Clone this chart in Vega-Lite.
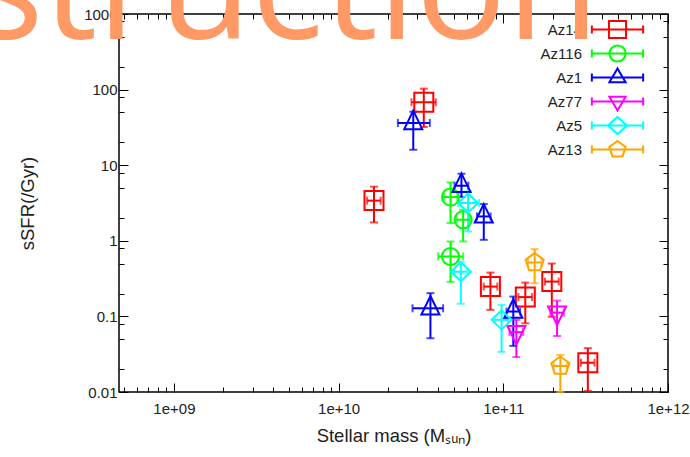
{
  "$schema": "https://vega.github.io/schema/vega-lite/v6.json",
  "autosize": {"type": "none"},
  "width": 549,
  "height": 378,
  "padding": {"left": 119, "top": 14, "right": 22, "bottom": 65},
  "background": "white",
  "config": {
    "view": {"stroke": "black", "strokeWidth": 1.5},
    "axis": {"grid": false, "domain": false, "labelFont": "Liberation Sans", "labelFontSize": 15, "labelColor": "#222222", "titleFont": "Liberation Sans", "titleFontSize": 18.5, "titleFontWeight": "normal", "titleColor": "#222222", "tickColor": "black", "tickWidth": 1, "labelFlush": false, "labelOverlap": false},
    "point": {"filled": false, "strokeWidth": 2, "size": 361, "opacity": 1}
  },
  "datasets": {
    "pts": [
      {"s": "Az14", "x": 3.29e10, "xlo": 2.77e10, "xhi": 3.89e10, "y": 68, "ylo": 32, "yhi": 103},
      {"s": "Az14", "x": 1.64e10, "xlo": 1.49e10, "xhi": 1.8e10, "y": 3.4, "ylo": 1.75, "yhi": 5.2},
      {"s": "Az14", "x": 8.35e10, "xlo": 7.6e10, "xhi": 9.2e10, "y": 0.248, "ylo": 0.122, "yhi": 0.38},
      {"s": "Az14", "x": 1.36e11, "xlo": 1.235e11, "xhi": 1.495e11, "y": 0.18, "ylo": 0.081, "yhi": 0.28},
      {"s": "Az14", "x": 1.97e11, "xlo": 1.79e11, "xhi": 2.17e11, "y": 0.289, "ylo": 0.099, "yhi": 0.5},
      {"s": "Az14", "x": 3.26e11, "xlo": 2.96e11, "xhi": 3.58e11, "y": 0.0244, "ylo": 0.0103, "yhi": 0.038},
      {"s": "Az116", "x": 4.78e10, "xlo": 4.35e10, "xhi": 5.26e10, "y": 3.79, "ylo": 1.72, "yhi": 5.92},
      {"s": "Az116", "x": 5.7e10, "xlo": 5.18e10, "xhi": 6.27e10, "y": 1.9, "ylo": 0.98, "yhi": 2.57},
      {"s": "Az116", "x": 4.78e10, "xlo": 4.02e10, "xhi": 5.7e10, "y": 0.62, "ylo": 0.286, "yhi": 0.98},
      {"s": "Az1", "x": 2.84e10, "xlo": 2.29e10, "xhi": 3.58e10, "y": 36.2, "ylo": 16, "yhi": 51},
      {"s": "Az1", "x": 5.57e10, "xlo": 5.06e10, "xhi": 6.13e10, "y": 5.35, "ylo": 3.8, "yhi": 7.7},
      {"s": "Az1", "x": 7.61e10, "xlo": 6.92e10, "xhi": 8.37e10, "y": 2.1, "ylo": 1.03, "yhi": 3.06},
      {"s": "Az1", "x": 3.61e10, "xlo": 2.81e10, "xhi": 4.31e10, "y": 0.128, "ylo": 0.0514, "yhi": 0.203},
      {"s": "Az1", "x": 1.15e11, "xlo": 1.045e11, "xhi": 1.265e11, "y": 0.116, "ylo": 0.0407, "yhi": 0.183},
      {"s": "Az77", "x": 1.2e11, "xlo": 1.09e11, "xhi": 1.32e11, "y": 0.062, "ylo": 0.029, "yhi": 0.09},
      {"s": "Az77", "x": 2.12e11, "xlo": 1.93e11, "xhi": 2.33e11, "y": 0.112, "ylo": 0.055, "yhi": 0.162},
      {"s": "Az5", "x": 6.11e10, "xlo": 5.32e10, "xhi": 7.13e10, "y": 3.16, "ylo": 1.33, "yhi": 4.5},
      {"s": "Az5", "x": 5.52e10, "xlo": 5.02e10, "xhi": 6.07e10, "y": 0.39, "ylo": 0.147, "yhi": 0.527},
      {"s": "Az5", "x": 9.76e10, "xlo": 8.87e10, "xhi": 1.074e11, "y": 0.09, "ylo": 0.034, "yhi": 0.142},
      {"s": "Az13", "x": 1.55e11, "xlo": 1.41e11, "xhi": 1.705e11, "y": 0.516, "ylo": 0.275, "yhi": 0.776},
      {"s": "Az13", "x": 2.22e11, "xlo": 2.02e11, "xhi": 2.44e11, "y": 0.0221, "ylo": 0.01, "yhi": 0.031}
    ]
  },
  "data": {"name": "pts"},
  "layer": [
    {
      "mark": {"type": "rule", "strokeWidth": 2},
      "encoding": {
        "x": {"field": "x", "type": "quantitative", "scale": {"type": "log", "domain": [4.64e8, 1e12], "nice": false},
              "axis": {"orient": "bottom", "values": [5e8, 6e8, 7e8, 8e8, 9e8, 2e9, 3e9, 4e9, 5e9, 6e9, 7e9, 8e9, 9e9, 2e10, 3e10, 4e10, 5e10, 6e10, 7e10, 8e10, 9e10, 2e11, 3e11, 4e11, 5e11, 6e11, 7e11, 8e11, 9e11], "labels": false, "tickSize": -5, "title": null}},
        "y": {"field": "ylo", "type": "quantitative", "scale": {"type": "log", "domain": [0.01, 1000], "nice": false},
              "axis": {"orient": "left", "values": [0.02, 0.05, 0.08, 0.2, 0.5, 0.8, 2, 5, 8, 20, 50, 80, 200, 500, 800], "labels": false, "tickSize": -5, "title": null}},
        "y2": {"field": "yhi"},
        "stroke": {"field": "s", "type": "nominal", "scale": {"domain": ["Az14", "Az116", "Az1", "Az77", "Az5", "Az13"], "range": ["#ff0000", "#00ff00", "#0000ff", "#ff00ff", "#00ffff", "#ffa500"]}, "legend": null}
      }
    },
    {
      "mark": {"type": "rule", "strokeWidth": 2},
      "encoding": {
        "x": {"field": "xlo", "type": "quantitative", "scale": {"type": "log", "domain": [4.64e8, 1e12], "nice": false},
              "axis": {"orient": "top", "values": [5e8, 6e8, 7e8, 8e8, 9e8, 2e9, 3e9, 4e9, 5e9, 6e9, 7e9, 8e9, 9e9, 2e10, 3e10, 4e10, 5e10, 6e10, 7e10, 8e10, 9e10, 2e11, 3e11, 4e11, 5e11, 6e11, 7e11, 8e11, 9e11], "labels": false, "tickSize": -5, "title": null}},
        "x2": {"field": "xhi"},
        "y": {"field": "y", "type": "quantitative", "scale": {"type": "log", "domain": [0.01, 1000], "nice": false},
              "axis": {"orient": "right", "values": [0.02, 0.05, 0.08, 0.2, 0.5, 0.8, 2, 5, 8, 20, 50, 80, 200, 500, 800], "labels": false, "tickSize": -5, "title": null}},
        "stroke": {"field": "s", "type": "nominal", "scale": {"domain": ["Az14", "Az116", "Az1", "Az77", "Az5", "Az13"], "range": ["#ff0000", "#00ff00", "#0000ff", "#ff00ff", "#00ffff", "#ffa500"]}, "legend": null}
      }
    },
    {
      "mark": {"type": "tick", "orient": "horizontal", "size": 8, "thickness": 2},
      "encoding": {
        "x": {"field": "x", "type": "quantitative", "scale": {"type": "log", "domain": [4.64e8, 1e12], "nice": false}, "axis": null},
        "y": {"field": "yhi", "type": "quantitative", "scale": {"type": "log", "domain": [0.01, 1000], "nice": false}, "axis": null},
        "fill": {"field": "s", "type": "nominal", "scale": {"domain": ["Az14", "Az116", "Az1", "Az77", "Az5", "Az13"], "range": ["#ff0000", "#00ff00", "#0000ff", "#ff00ff", "#00ffff", "#ffa500"]}, "legend": null}
      }
    },
    {
      "mark": {"type": "tick", "orient": "horizontal", "size": 8, "thickness": 2},
      "encoding": {
        "x": {"field": "x", "type": "quantitative", "scale": {"type": "log", "domain": [4.64e8, 1e12], "nice": false}, "axis": null},
        "y": {"field": "ylo", "type": "quantitative", "scale": {"type": "log", "domain": [0.01, 1000], "nice": false}, "axis": null},
        "fill": {"field": "s", "type": "nominal", "scale": {"domain": ["Az14", "Az116", "Az1", "Az77", "Az5", "Az13"], "range": ["#ff0000", "#00ff00", "#0000ff", "#ff00ff", "#00ffff", "#ffa500"]}, "legend": null}
      }
    },
    {
      "mark": {"type": "tick", "orient": "vertical", "size": 8, "thickness": 2},
      "encoding": {
        "x": {"field": "xlo", "type": "quantitative", "scale": {"type": "log", "domain": [4.64e8, 1e12], "nice": false}, "axis": null},
        "y": {"field": "y", "type": "quantitative", "scale": {"type": "log", "domain": [0.01, 1000], "nice": false}, "axis": null},
        "fill": {"field": "s", "type": "nominal", "scale": {"domain": ["Az14", "Az116", "Az1", "Az77", "Az5", "Az13"], "range": ["#ff0000", "#00ff00", "#0000ff", "#ff00ff", "#00ffff", "#ffa500"]}, "legend": null}
      }
    },
    {
      "mark": {"type": "tick", "orient": "vertical", "size": 8, "thickness": 2},
      "encoding": {
        "x": {"field": "xhi", "type": "quantitative", "scale": {"type": "log", "domain": [4.64e8, 1e12], "nice": false}, "axis": null},
        "y": {"field": "y", "type": "quantitative", "scale": {"type": "log", "domain": [0.01, 1000], "nice": false}, "axis": null},
        "fill": {"field": "s", "type": "nominal", "scale": {"domain": ["Az14", "Az116", "Az1", "Az77", "Az5", "Az13"], "range": ["#ff0000", "#00ff00", "#0000ff", "#ff00ff", "#00ffff", "#ffa500"]}, "legend": null}
      }
    },
    {
      "transform": [{"filter": "datum.s === 'Az14'"}],
      "mark": {"type": "point", "shape": "M-1,-1H1V1H-1Z"},
      "encoding": {
        "x": {"field": "x", "type": "quantitative", "scale": {"type": "log", "domain": [4.64e8, 1e12], "nice": false},
              "axis": {"orient": "bottom", "values": [1e9, 1e10, 1e11, 1e12], "tickSize": -9, "labelPadding": 18, "labelExpr": "'1e+' + (round(log(datum.value)/LN10) < 10 ? '0' : '') + round(log(datum.value)/LN10)", "title": "Stellar mass (Mₛᵤₙ)", "titlePadding": 10}},
        "y": {"field": "y", "type": "quantitative", "scale": {"type": "log", "domain": [0.01, 1000], "nice": false},
              "axis": {"orient": "left", "values": [0.01, 0.1, 1, 10, 100, 1000], "tickSize": -9, "labelPadding": 11, "format": "~g", "title": "sSFR(/Gyr)", "titlePadding": 46}},
        "stroke": {"field": "s", "type": "nominal", "scale": {"domain": ["Az14", "Az116", "Az1", "Az77", "Az5", "Az13"], "range": ["#ff0000", "#00ff00", "#0000ff", "#ff00ff", "#00ffff", "#ffa500"]}, "legend": null}
      }
    },
    {
      "transform": [{"filter": "datum.s === 'Az116'"}],
      "mark": {"type": "point", "shape": "M0.9,0A0.9,0.9,0,1,1,-0.9,0A0.9,0.9,0,1,1,0.9,0Z"},
      "encoding": {
        "x": {"field": "x", "type": "quantitative", "scale": {"type": "log", "domain": [4.64e8, 1e12], "nice": false}, "axis": null},
        "y": {"field": "y", "type": "quantitative", "scale": {"type": "log", "domain": [0.01, 1000], "nice": false}, "axis": null},
        "stroke": {"field": "s", "type": "nominal", "scale": {"domain": ["Az14", "Az116", "Az1", "Az77", "Az5", "Az13"], "range": ["#ff0000", "#00ff00", "#0000ff", "#ff00ff", "#00ffff", "#ffa500"]}, "legend": null}
      }
    },
    {
      "transform": [{"filter": "datum.s === 'Az1'"}],
      "mark": {"type": "point", "shape": "M0,-1.3L0.95,0.65L-0.95,0.65Z"},
      "encoding": {
        "x": {"field": "x", "type": "quantitative", "scale": {"type": "log", "domain": [4.64e8, 1e12], "nice": false}, "axis": null},
        "y": {"field": "y", "type": "quantitative", "scale": {"type": "log", "domain": [0.01, 1000], "nice": false}, "axis": null},
        "stroke": {"field": "s", "type": "nominal", "scale": {"domain": ["Az14", "Az116", "Az1", "Az77", "Az5", "Az13"], "range": ["#ff0000", "#00ff00", "#0000ff", "#ff00ff", "#00ffff", "#ffa500"]}, "legend": null}
      }
    },
    {
      "transform": [{"filter": "datum.s === 'Az77'"}],
      "mark": {"type": "point", "shape": "M0,1.3L0.95,-0.65L-0.95,-0.65Z"},
      "encoding": {
        "x": {"field": "x", "type": "quantitative", "scale": {"type": "log", "domain": [4.64e8, 1e12], "nice": false}, "axis": null},
        "y": {"field": "y", "type": "quantitative", "scale": {"type": "log", "domain": [0.01, 1000], "nice": false}, "axis": null},
        "stroke": {"field": "s", "type": "nominal", "scale": {"domain": ["Az14", "Az116", "Az1", "Az77", "Az5", "Az13"], "range": ["#ff0000", "#00ff00", "#0000ff", "#ff00ff", "#00ffff", "#ffa500"]}, "legend": null}
      }
    },
    {
      "transform": [{"filter": "datum.s === 'Az5'"}],
      "mark": {"type": "point", "shape": "M0,-1L1.05,0L0,1L-1.05,0Z"},
      "encoding": {
        "x": {"field": "x", "type": "quantitative", "scale": {"type": "log", "domain": [4.64e8, 1e12], "nice": false}, "axis": null},
        "y": {"field": "y", "type": "quantitative", "scale": {"type": "log", "domain": [0.01, 1000], "nice": false}, "axis": null},
        "stroke": {"field": "s", "type": "nominal", "scale": {"domain": ["Az14", "Az116", "Az1", "Az77", "Az5", "Az13"], "range": ["#ff0000", "#00ff00", "#0000ff", "#ff00ff", "#00ffff", "#ffa500"]}, "legend": null}
      }
    },
    {
      "transform": [{"filter": "datum.s === 'Az13'"}],
      "mark": {"type": "point", "shape": "M0,-1L0.951,-0.309L0.588,0.809L-0.588,0.809L-0.951,-0.309Z"},
      "encoding": {
        "x": {"field": "x", "type": "quantitative", "scale": {"type": "log", "domain": [4.64e8, 1e12], "nice": false}, "axis": null},
        "y": {"field": "y", "type": "quantitative", "scale": {"type": "log", "domain": [0.01, 1000], "nice": false}, "axis": null},
        "stroke": {"field": "s", "type": "nominal", "scale": {"domain": ["Az14", "Az116", "Az1", "Az77", "Az5", "Az13"], "range": ["#ff0000", "#00ff00", "#0000ff", "#ff00ff", "#00ffff", "#ffa500"]}, "legend": null}
      }
    },
    {
      "transform": [{"filter": "false"}],
      "mark": {"type": "point"},
      "encoding": {
        "x": {"field": "x", "type": "quantitative", "scale": {"type": "log", "domain": [4.64e8, 1e12], "nice": false},
              "axis": {"orient": "top", "values": [1e9, 1e10, 1e11, 1e12], "tickSize": -9, "labels": false, "zindex": 3,
                       "title": "struction", "titleFont": "Open Sans", "titleFontSize": 151, "titleFontWeight": "normal", "titleColor": "#ff9966", "titleAnchor": "start", "titleAlign": "left", "titleBaseline": "alphabetic", "titleX": -148, "titleY": 24}},
        "y": {"field": "y", "type": "quantitative", "scale": {"type": "log", "domain": [0.01, 1000], "nice": false},
              "axis": {"orient": "right", "values": [0.01, 0.1, 1, 10, 100, 1000], "tickSize": -9, "labels": false, "title": null}},
        "color": {"field": "s", "type": "nominal", "scale": {"domain": ["Az14", "Az116", "Az1", "Az77", "Az5", "Az13"], "range": ["#ff0000", "#00ff00", "#0000ff", "#ff00ff", "#00ffff", "#ffa500"]},
                  "legend": {"title": null, "orient": "none", "legendX": 488, "legendY": 5, "labelAlign": "right", "labelOffset": -46, "symbolSize": 361, "symbolStrokeWidth": 2, "symbolOpacity": 1, "labelFont": "Liberation Sans", "labelFontSize": 15, "labelColor": "#222222", "rowPadding": -8, "padding": 0}},
        "shape": {"field": "s", "type": "nominal",
                  "legend": {"title": null, "orient": "none", "legendX": 488, "legendY": 5, "labelAlign": "right", "labelOffset": -46, "symbolSize": 361, "symbolStrokeWidth": 2, "symbolOpacity": 1, "labelFont": "Liberation Sans", "labelFontSize": 15, "labelColor": "#222222", "rowPadding": -8, "padding": 0},
                  "scale": {"domain": ["Az14", "Az116", "Az1", "Az77", "Az5", "Az13"],
                            "range": ["M0,-0.95M0,0.95M-0.9,-0.9H0.9V0.9H-0.9Z M-2.7,0H2.7 M-2.7,-0.42V0.42 M2.7,-0.42V0.42", "M0,-0.95M0,0.95M0.85,0A0.85,0.85,0,1,1,-0.85,0A0.85,0.85,0,1,1,0.85,0Z M-2.7,0H2.7 M-2.7,-0.42V0.42 M2.7,-0.42V0.42", "M0,-0.95M0,0.95M0,-0.95L0.85,0.5L-0.85,0.5Z M-2.7,0H2.7 M-2.7,-0.42V0.42 M2.7,-0.42V0.42", "M0,-0.95M0,0.95M0,0.95L0.85,-0.5L-0.85,-0.5Z M-2.7,0H2.7 M-2.7,-0.42V0.42 M2.7,-0.42V0.42", "M0,-0.95M0,0.95M0,-0.9L1,0L0,0.9L-1,0Z M-2.7,0H2.7 M-2.7,-0.42V0.42 M2.7,-0.42V0.42", "M0,-0.95M0,0.95M0,-0.9L0.856,-0.278L0.529,0.728L-0.529,0.728L-0.856,-0.278Z M-2.7,0H2.7 M-2.7,-0.42V0.42 M2.7,-0.42V0.42"]}}
      }
    }
  ],
  "resolve": {"scale": {"color": "independent", "shape": "independent"}, "axis": {"x": "independent", "y": "independent"}}
}
